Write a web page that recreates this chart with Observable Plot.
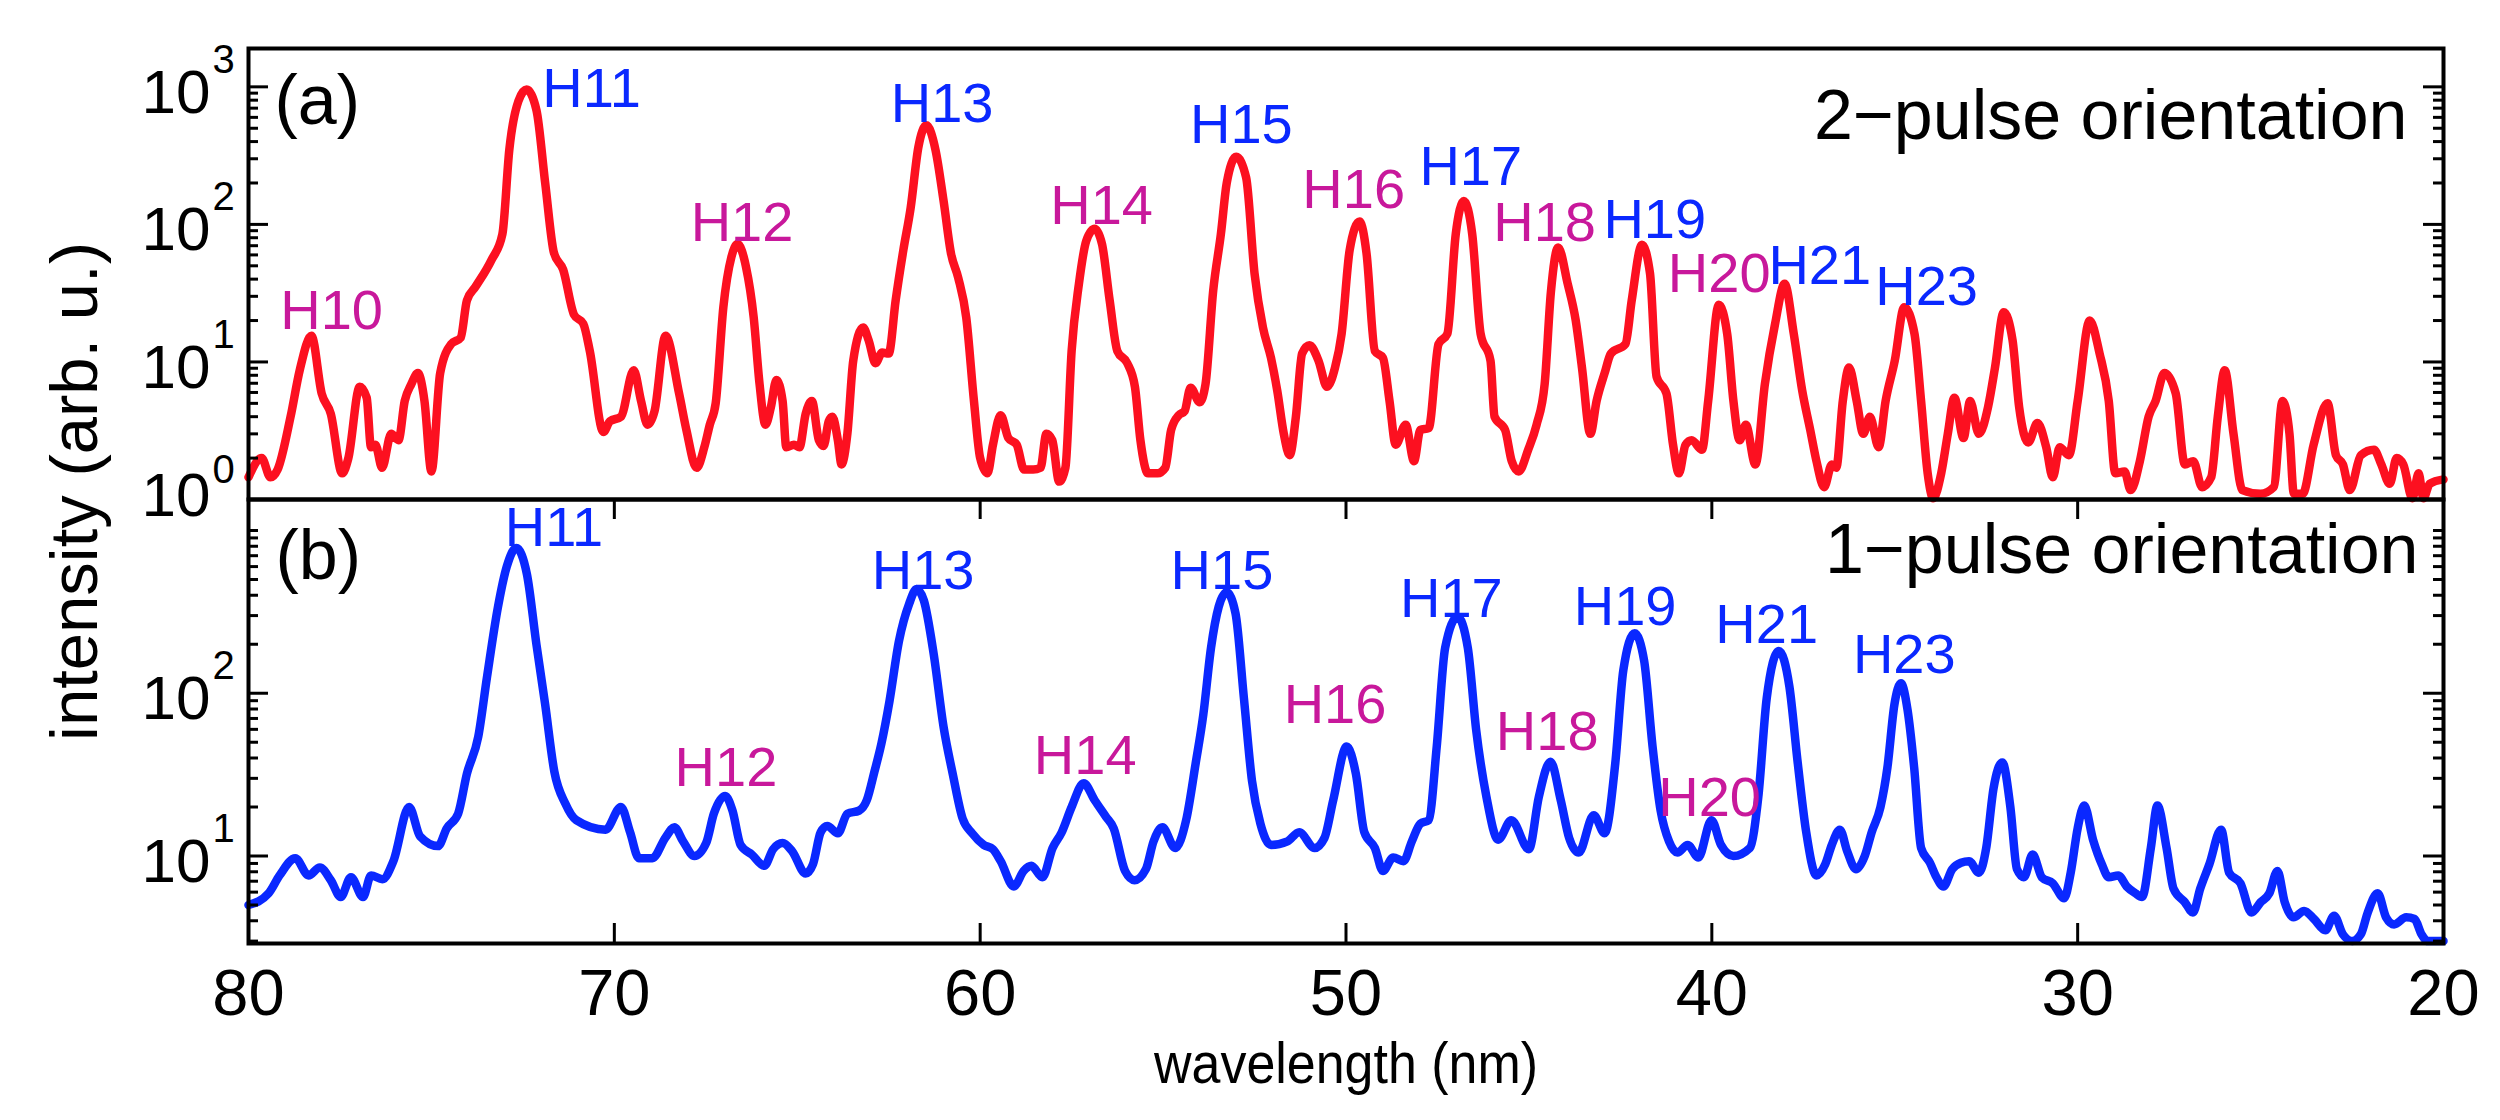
<!DOCTYPE html>
<html>
<head>
<meta charset="utf-8">
<script src="https://cdn.jsdelivr.net/npm/d3@7"></script>
<script src="https://cdn.jsdelivr.net/npm/@observablehq/plot@0.6"></script>
<style>
  html, body { margin: 0; padding: 0; background: #ffffff; }
  #wrap { position: relative; width: 2500px; height: 1120px; background: #ffffff; }
  #wrap svg { position: absolute; left: 0; top: 0; overflow: visible; }
</style>
</head>
<body>
<div id="wrap"></div>
<script>
// ---------- data (wavelength in nm, intensity in arb. u.) ----------
// (a) 2-pulse orientation, red spectrum
const spectrumA = [
  [80.0,1.45],[79.64,2.0],[79.4,1.45],[79.2,1.66],[78.85,4.0],[78.6,8.7],[78.28,15.5],[78.0,5.9],[77.75,4.2],[77.44,1.55],
  [77.27,2.0],[76.96,6.6],[76.77,5.5],[76.65,2.4],[76.53,2.5],[76.35,1.7],[76.1,3.0],[75.9,2.7],[75.73,5.2],[75.55,6.9],
  [75.37,8.3],[75.19,5.2],[75.0,1.6],[74.76,8.3],[74.46,13.5],[74.2,15],[74.03,28],[73.8,35],[73.36,55],[73.06,85],
  [72.87,350],[72.62,790],[72.4,955],[72.13,680],[71.89,200],[71.65,62],[71.4,47],[71.1,22],[70.85,19],[70.67,12],
  [70.3,3.1],[70.12,3.7],[69.82,4.0],[69.47,8.7],[69.27,5.2],[69.09,3.5],[68.9,4.4],[68.6,15.5],[68.23,5.9],[68.03,3.2],
  [67.75,1.7],[67.54,2.4],[67.39,3.5],[67.23,5.0],[67.02,25],[66.8,58],[66.63,72],[66.4,49],[66.19,21],[66.03,6.9],
  [65.87,3.5],[65.72,4.7],[65.57,7.4],[65.4,5.2],[65.3,2.4],[65.09,2.5],[64.94,2.4],[64.77,4.2],[64.6,5.2],[64.41,2.7],
  [64.28,2.45],[64.14,3.7],[64.04,4.0],[63.89,2.7],[63.79,1.8],[63.63,3.0],[63.47,10.2],[63.2,17.8],[63.05,14.4],[62.86,9.8],
  [62.68,11.7],[62.5,11.5],[62.31,28],[62.1,65],[61.9,132],[61.69,363],[61.47,525],[61.22,347],[61.0,148],[60.8,62],
  [60.6,41],[60.38,21],[60.17,5.2],[60.0,2.0],[59.8,1.55],[59.65,2.5],[59.44,4.1],[59.23,2.8],[59.0,2.5],[58.8,1.65],
  [58.55,1.65],[58.35,1.7],[58.19,3.0],[58.03,2.7],[57.84,1.35],[57.67,1.7],[57.5,12],[57.3,37],[57.1,76],[56.87,93],
  [56.67,72],[56.46,28],[56.25,12],[55.98,9.8],[55.77,6.6],[55.62,2.7],[55.41,1.55],[55.15,1.55],[54.94,1.7],[54.78,3.2],
  [54.57,4.1],[54.41,4.4],[54.25,6.5],[54.0,5.1],[53.84,6.9],[53.63,33],[53.42,85],[53.26,200],[53.0,310],[52.73,219],
  [52.5,44],[52.27,17.8],[52.05,10.7],[51.88,6.2],[51.7,3.0],[51.54,2.1],[51.37,4.0],[51.2,11.5],[51.0,13.2],[50.75,10.2],
  [50.52,6.6],[50.3,9.1],[50.12,16],[49.9,65],[49.63,105],[49.44,62],[49.21,12],[48.99,10.7],[48.81,5.2],[48.64,2.5],
  [48.37,3.5],[48.14,1.9],[47.97,3.2],[47.74,3.3],[47.47,13.5],[47.23,16],[47.0,85],[46.78,148],[46.55,85],[46.32,16],
  [46.05,10.2],[45.94,4.0],[45.65,3.2],[45.47,1.9],[45.28,1.6],[45.02,2.3],[44.79,3.5],[44.57,6.9],[44.4,32],[44.2,68],
  [43.94,37],[43.72,20],[43.55,9.1],[43.32,3.0],[43.15,5.2],[42.93,8.3],[42.76,11.5],[42.36,13.5],[42.19,28],[41.91,71],
  [41.69,44],[41.51,7.8],[41.24,5.9],[41.06,2.5],[40.9,1.55],[40.72,2.5],[40.55,2.7],[40.27,2.3],[40.1,5.2],[39.81,26],
  [39.58,16],[39.41,5.2],[39.24,2.7],[39.07,3.5],[38.81,1.8],[38.55,6.9],[38.27,19],[38.01,37],[37.76,16],[37.53,6.2],
  [37.31,3.2],[37.14,1.9],[36.93,1.23],[36.72,1.8],[36.6,1.7],[36.42,5.2],[36.25,9.1],[36.04,5.2],[35.86,3.0],[35.68,4.0],
  [35.44,2.4],[35.25,5.2],[35.0,10.2],[34.74,25],[34.46,16],[34.28,5.2],[34.1,1.55],[33.95,1.02],[33.73,1.55],[33.55,3.0],
  [33.37,5.5],[33.12,2.8],[32.94,5.2],[32.7,3.0],[32.45,4.7],[32.26,9.1],[32.02,23],[31.78,14.4],[31.6,4.7],[31.35,2.6],
  [31.1,3.6],[30.86,2.4],[30.68,1.45],[30.49,2.4],[30.24,2.1],[30.0,5.2],[29.67,20],[29.4,11.5],[29.15,5.2],[28.97,1.55],
  [28.72,1.6],[28.55,1.17],[28.3,1.9],[28.06,4.0],[27.87,5.2],[27.63,8.3],[27.32,5.9],[27.07,1.8],[26.84,1.9],[26.6,1.23],
  [26.35,1.45],[26.17,4.0],[25.98,8.7],[25.74,3.0],[25.5,1.17],[25.0,1.1],[24.64,1.23],[24.4,5.2],[24.21,3.0],[24.09,1.1],
  [23.85,1.1],[23.55,2.5],[23.17,5.0],[22.94,2.1],[22.75,1.8],[22.56,1.17],[22.26,2.1],[21.9,2.3],[21.7,1.8],[21.47,1.3],
  [21.28,2.0],[21.1,1.8],[20.85,1.02],[20.68,1.55],[20.55,1.02],[20.38,1.3],[20.0,1.4]
];

// (b) 1-pulse orientation, blue spectrum
const spectrumB = [
  [80.0,5.0],[79.45,5.9],[79.15,7.6],[78.72,9.7],[78.36,7.6],[78.05,8.5],[77.75,7.1],[77.48,5.6],[77.2,7.4],[76.87,5.6],
  [76.65,7.6],[76.34,7.2],[76.04,9.3],[75.61,20],[75.31,13.2],[74.82,11.5],[74.58,14.8],[74.27,18.2],[74.03,32],[73.72,54],
  [73.48,126],[73.18,340],[72.94,600],[72.68,780],[72.39,540],[72.13,200],[71.89,85],[71.64,33],[71.34,21],[71.04,16.6],
  [70.24,14.5],[69.82,20],[69.57,14],[69.33,9.7],[68.96,9.7],[68.6,13],[68.36,15],[68.12,12.3],[67.81,10],[67.49,12],
  [67.28,18.2],[66.97,23.4],[66.77,19],[66.55,11.7],[66.24,10.2],[65.9,8.7],[65.66,11],[65.4,12],[65.14,10.7],[64.77,7.8],
  [64.57,8.9],[64.36,14],[64.18,15.3],[63.89,13.8],[63.63,18.2],[63.31,19],[63.1,22],[62.89,33],[62.7,49],[62.48,89],
  [62.22,209],[61.94,355],[61.74,437],[61.54,372],[61.27,174],[61.0,62],[60.75,32],[60.48,17],[60.22,13.8],[59.9,11.7],
  [59.65,11],[59.44,9.3],[59.08,6.5],[58.81,8.1],[58.6,8.7],[58.3,7.4],[58.02,11.2],[57.77,14],[57.5,20],[57.17,28],
  [56.87,22],[56.56,17.4],[56.35,14.8],[56.04,8.1],[55.78,7.1],[55.47,8.3],[55.26,12.3],[55.02,15],[54.67,11.2],[54.37,16.6],
  [54.11,37],[53.9,74],[53.69,190],[53.48,340],[53.26,417],[53.02,310],[52.79,93],[52.57,29],[52.34,15.8],[52.05,11.7],
  [51.6,12.3],[51.28,14],[50.86,11.2],[50.59,12.9],[50.35,22],[49.98,47],[49.73,32],[49.5,14],[49.21,11.2],[48.99,8.1],
  [48.71,9.8],[48.43,9.3],[48.2,12.3],[47.97,15.8],[47.74,16.6],[47.52,47],[47.29,190],[46.95,295],[46.67,190],[46.44,59],
  [46.16,23],[45.84,12.6],[45.48,16.6],[45.0,11],[44.73,23],[44.41,38],[44.13,22],[43.9,12.9],[43.64,10.5],[43.23,17.8],
  [42.93,13.8],[42.64,37],[42.42,138],[42.11,234],[41.85,158],[41.62,47],[41.4,19],[41.17,12.3],[40.94,10.5],[40.66,11.7],
  [40.37,9.8],[40.01,16.6],[39.75,11.7],[39.41,10],[38.96,11.2],[38.73,23],[38.5,93],[38.17,182],[37.88,110],[37.65,37],
  [37.42,14],[37.14,7.6],[36.9,8.9],[36.72,11.7],[36.5,14.5],[36.3,10.7],[36.06,8.3],[35.82,10],[35.63,14],[35.39,20],
  [35.2,35],[35.01,85],[34.83,115],[34.65,79],[34.47,35],[34.28,11.2],[34.04,9.1],[33.86,7.4],[33.67,6.5],[33.43,8.3],
  [33.19,9.1],[32.97,9.3],[32.7,7.9],[32.5,11.2],[32.3,26],[32.06,37.6],[31.84,20],[31.66,8.3],[31.47,7.4],[31.23,10.2],
  [30.98,7.4],[30.68,6.8],[30.37,5.5],[30.19,7.9],[30.0,14.8],[29.82,20.4],[29.58,12.6],[29.34,8.9],[29.15,7.4],[28.89,7.6],
  [28.66,6.5],[28.42,5.9],[28.24,5.6],[28.0,11.2],[27.82,20.4],[27.57,11.2],[27.38,6.3],[27.07,5.2],[26.85,4.5],[26.65,6.3],
  [26.4,8.9],[26.08,14.5],[25.86,7.9],[25.55,6.8],[25.25,4.5],[25.0,5.2],[24.76,5.9],[24.54,8.1],[24.34,5.2],[24.1,4.2],
  [23.81,4.6],[23.54,4.1],[23.23,3.5],[22.99,4.3],[22.75,3.3],[22.49,3.0],[22.26,3.3],[22.07,4.5],[21.8,5.9],[21.57,4.2],
  [21.35,3.8],[21.02,4.2],[20.79,4.1],[20.6,3.3],[20.43,3.0],[20.0,3.0]
];

// harmonic labels: [name, wavelength of label centre, intensity at label baseline]
const harmonicLabelsA = [
  ["H10",77.73,17.4],["H11",70.62,708],["H12",66.51,76],["H13",61.04,555],["H14",56.68,100],["H15",52.86,390],
  ["H16",49.79,132],["H17",46.59,195],["H18",44.57,76],["H19",41.56,79],["H20",39.8,32],["H21",37.05,37],["H23",34.13,26]
];
const harmonicLabelsB = [
  ["H11",71.65,807],["H12",66.95,27],["H13",61.56,437],["H14",57.13,32],["H15",53.39,437],["H16",50.3,66],
  ["H17",47.12,295],["H18",44.5,45],["H19",42.37,263],["H20",40.06,17.7],["H21",38.5,204],["H23",34.74,134]
];

const xTickValues = [80, 70, 60, 50, 40, 30, 20];
const decadesA = [0, 1, 2, 3];
const decadesB = [1, 2];
const panelTextA = "2\u2212pulse orientation";
const panelTextB = "1\u2212pulse orientation";
const xTitle = "wavelength (nm)";
const yTitle = "intensity (arb. u.)";

// ---------- layout / style ----------
const RED = "#fc1020", BLUE = "#0a28ff", MAGENTA = "#c8189b";
const FONT = "'Liberation Sans', Arial, Helvetica, sans-serif";
const W = 2500, H = 1120;
const LEFT = 248, RIGHT = 2443, TOP_A = 48, MID = 499, BOT_B = 943;
const innerW = RIGHT - LEFT;
const LINE_W = 8.5;

const toRows = arr => arr.map(([w, v]) => ({w, v}));
const toLabels = arr => arr.map(([name, w, v]) => ({name, w, v, color: (+name.slice(1)) % 2 ? BLUE : MAGENTA}));

function minorTicks(lo, hi, majors) {
  const out = [];
  for (let e = -1; e < 5; e++) for (let k = 1; k < 10; k++) {
    const v = k * Math.pow(10, e);
    if (v >= lo && v <= hi && !majors.includes(v)) out.push(v);
  }
  return out;
}

function yTickMarks(majors, minors) {
  return [
    Plot.tickY(majors, {y: d => d, insetRight: innerW - 20, stroke: "black", strokeWidth: 3}),
    Plot.tickY(majors, {y: d => d, insetLeft: innerW - 20, stroke: "black", strokeWidth: 3}),
    Plot.tickY(minors, {y: d => d, insetRight: innerW - 10, stroke: "black", strokeWidth: 3}),
    Plot.tickY(minors, {y: d => d, insetLeft: innerW - 10, stroke: "black", strokeWidth: 3})
  ];
}

function yTickLabels(decades, dy10, dyExp) {
  return [
    Plot.text(decades, {y: d => Math.pow(10, d), text: () => "10", frameAnchor: "left", textAnchor: "end",
      lineAnchor: "bottom", dx: -38, dy: dy10, fontSize: 62, fill: "black", fontFamily: FONT}),
    Plot.text(decades, {y: d => Math.pow(10, d), text: d => String(d), frameAnchor: "left", textAnchor: "start",
      lineAnchor: "bottom", dx: -36, dy: dyExp, fontSize: 40, fill: "black", fontFamily: FONT})
  ];
}

// ---------- panel (a) ----------
const yDomainA = [1, 1900];
const majorsA = [1, 10, 100, 1000];
const minorsA = minorTicks(yDomainA[0], yDomainA[1], majorsA);

const plotA = Plot.plot({
  width: W, height: H,
  marginLeft: LEFT, marginRight: W - RIGHT, marginTop: TOP_A, marginBottom: H - MID,
  x: {domain: [80, 20], axis: null},
  y: {type: "log", domain: yDomainA, axis: null},
  style: {background: "transparent", fontFamily: FONT, overflow: "visible"},
  marks: [
    Plot.line(toRows(spectrumA), {x: "w", y: "v", stroke: RED, strokeWidth: LINE_W, curve: "monotone-x",
      strokeLinejoin: "round", strokeLinecap: "round"}),
    ...yTickMarks(majorsA.slice(1), minorsA),
    Plot.frame({stroke: "black", strokeWidth: 4}),
    ...yTickLabels(decadesA.slice(1), 26, -14),
    ...yTickLabels([0], 16, -17),
    Plot.text(toLabels(harmonicLabelsA), {x: "w", y: "v", text: "name", fill: "color", fontSize: 56,
      textAnchor: "middle", lineAnchor: "bottom", fontFamily: FONT}),
    Plot.text(["(a)"], {text: d => d, frameAnchor: "top-left", textAnchor: "start", lineAnchor: "bottom",
      dx: 26, dy: 75, fontSize: 70, fill: "black", fontFamily: FONT}),
    Plot.text([panelTextA], {text: d => d, frameAnchor: "top-right", textAnchor: "end", lineAnchor: "bottom",
      dx: -36, dy: 90, fontSize: 70, fill: "black", fontFamily: FONT}),
    Plot.text([yTitle], {text: d => d, frameAnchor: "bottom-left", rotate: -90, textAnchor: "middle",
      lineAnchor: "bottom", dx: -152, dy: -8, fontSize: 67, fill: "black", fontFamily: FONT})
  ]
});

// ---------- panel (b) ----------
const yDomainB = [2.9, 1550];
const majorsB = [10, 100];
const minorsB = minorTicks(yDomainB[0], yDomainB[1], majorsB);

const plotB = Plot.plot({
  width: W, height: H,
  marginLeft: LEFT, marginRight: W - RIGHT, marginTop: MID, marginBottom: H - BOT_B,
  x: {domain: [80, 20], axis: null},
  y: {type: "log", domain: yDomainB, axis: null},
  style: {background: "transparent", fontFamily: FONT, overflow: "visible"},
  marks: [
    Plot.line(toRows(spectrumB), {x: "w", y: "v", stroke: BLUE, strokeWidth: LINE_W, curve: "monotone-x",
      strokeLinejoin: "round", strokeLinecap: "round"}),
    ...yTickMarks(majorsB, minorsB),
    Plot.tickX(xTickValues.slice(1, -1), {x: d => d, insetTop: (BOT_B - MID) - 20, stroke: "black", strokeWidth: 3}),
    Plot.tickX(xTickValues.slice(1, -1), {x: d => d, insetBottom: (BOT_B - MID) - 20, stroke: "black", strokeWidth: 3}),
    Plot.frame({stroke: "black", strokeWidth: 4}),
    ...yTickLabels(decadesB, 26, -14),
    Plot.text(xTickValues, {x: d => d, text: d => String(d), frameAnchor: "bottom", textAnchor: "middle",
      lineAnchor: "bottom", dy: 71, fontSize: 65, fill: "black", fontFamily: FONT}),
    Plot.text(toLabels(harmonicLabelsB), {x: "w", y: "v", text: "name", fill: "color", fontSize: 56,
      textAnchor: "middle", lineAnchor: "bottom", fontFamily: FONT}),
    Plot.text(["(b)"], {text: d => d, frameAnchor: "top-left", textAnchor: "start", lineAnchor: "bottom",
      dx: 27, dy: 79, fontSize: 70, fill: "black", fontFamily: FONT}),
    Plot.text([panelTextB], {text: d => d, frameAnchor: "top-right", textAnchor: "end", lineAnchor: "bottom",
      dx: -25, dy: 73, fontSize: 70, fill: "black", fontFamily: FONT}),
    Plot.text([xTitle], {text: d => d, frameAnchor: "bottom", textAnchor: "middle", lineAnchor: "bottom",
      dy: 139, fontSize: 58, fill: "black", fontFamily: FONT})
  ]
});

// the original axis title is set in a slightly condensed face: fit it to its measured width
for (const t of plotB.querySelectorAll("text")) {
  if (t.textContent === xTitle) {
    t.setAttribute("textLength", 384);
    t.setAttribute("lengthAdjust", "spacingAndGlyphs");
  }
}

const wrap = document.getElementById("wrap");
wrap.appendChild(plotA);
wrap.appendChild(plotB);
</script>
</body>
</html>
